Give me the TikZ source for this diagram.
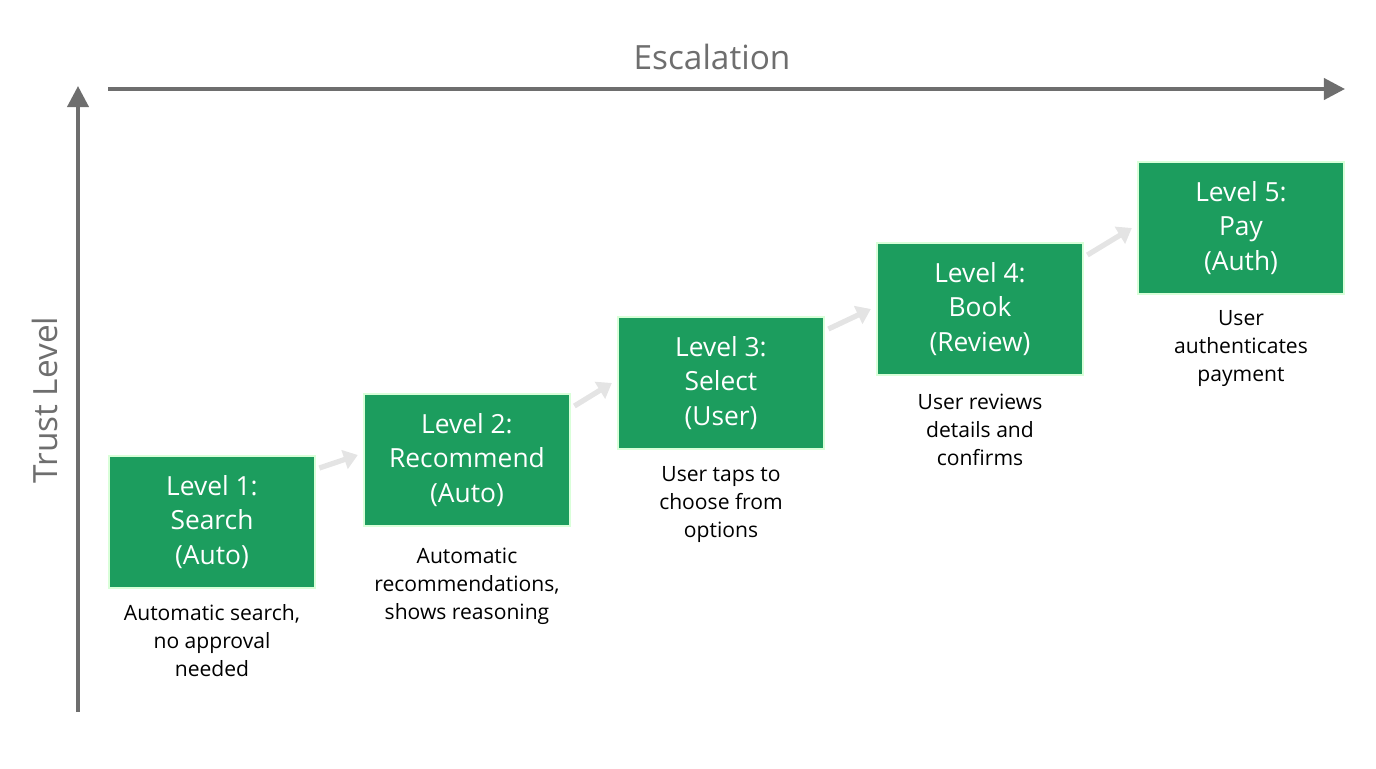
\documentclass[tikz,border=0pt]{standalone}
\usepackage{fontspec}
\setmainfont{Open Sans}
\usetikzlibrary{arrows.meta}
\definecolor{grn}{HTML}{1C9D5E}
\definecolor{axis}{HTML}{6E6E6E}
\definecolor{lg}{HTML}{E4E4E4}
\begin{document}
\begin{tikzpicture}[x=0.02cm,y=-0.02cm,
  box/.style={draw=green!15,line width=1pt,fill=grn,text=white,minimum width=206*0.02cm,minimum height=132*0.02cm,align=center,font=\fontsize{15}{19.8}\selectfont,inner sep=0pt},
  desc/.style={align=center,font=\fontsize{12}{16}\selectfont,anchor=north},
  stp/.style={draw=lg,line width=3pt,-{Triangle[length=8pt,width=11pt]}},
  ax/.style={draw=axis,line width=2.2pt,-{Triangle[length=12pt,width=12pt]}}]
\useasboundingbox (0,0) rectangle (1376,768);
\coordinate (h0) at (108,89); \coordinate (h1) at (1345,89);
\coordinate (v0) at (78,712); \coordinate (v1) at (78,86);
\draw[ax] (h0) -- (h1);
\draw[ax] (v0) -- (v1);
\node[text=axis,font=\fontsize{19}{22}\selectfont] (esc) at (712,57) {Escalation};
\node[text=axis,font=\fontsize{19}{22}\selectfont,rotate=90] (tl) at (45,400) {Trust Level};
\node[box] (b1) at (212,522) {Level 1:\\Search\\(Auto)};
\node[box] (b2) at (467,460) {Level 2:\\Recommend\\(Auto)};
\node[box] (b3) at (721,383) {Level 3:\\Select\\(User)};
\node[box] (b4) at (980,309) {Level 4:\\Book\\(Review)};
\node[box] (b5) at (1241,228) {Level 5:\\Pay\\(Auth)};
\draw[stp] ([xshift=2pt,yshift=54*0.02cm]b1.east) -- ([xshift=-3pt,yshift=5*0.02cm]b2.west);
\draw[stp] ([xshift=2pt,yshift=54*0.02cm]b2.east) -- ([xshift=-3pt,yshift=0*0.02cm]b3.west);
\draw[stp] ([xshift=2pt,yshift=54*0.02cm]b3.east) -- ([xshift=-3pt,yshift=0*0.02cm]b4.west);
\draw[stp] ([xshift=2pt,yshift=54*0.02cm]b4.east) -- ([xshift=-3pt,yshift=0*0.02cm]b5.west);
\node[desc] (d1) at (212,598) {Automatic search,\\no approval\\needed};
\node[desc] (d2) at (467,542) {Automatic\\recommendations,\\shows reasoning};
\node[desc] (d3) at (721,460) {User taps to\\choose from\\options};
\node[desc] (d4) at (980,388) {User reviews\\details and\\confirms};
\node[desc] (d5) at (1241,304) {User\\authenticates\\payment};
\end{tikzpicture}
\end{document}
